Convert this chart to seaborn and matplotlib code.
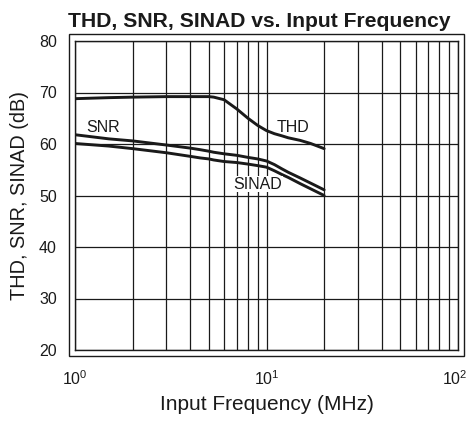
import numpy as np
import pandas as pd
import seaborn as sns
import matplotlib.pyplot as plt
import matplotlib.transforms as mtransforms
from matplotlib.patches import Rectangle

sns.set_theme(style="white")
plt.rcParams['font.family'] = ['Liberation Sans', 'DejaVu Sans']

freq = [1, 1.5, 2, 3, 4, 4.5, 5, 5.3, 6, 7, 8, 9, 10, 11, 12, 13, 15, 17, 20]
thd = [68.8, 69.0, 69.1, 69.2, 69.2, 69.2, 69.2, 69.1, 68.6, 66.8, 65.0, 63.6, 62.6, 62.0, 61.6, 61.2, 60.7, 60.1, 59.1]
snr = [61.8, 61.0, 60.6, 59.8, 59.2, 58.9, 58.6, 58.4, 58.1, 57.8, 57.4, 57.1, 56.7, 56.0, 55.2, 54.5, 53.4, 52.4, 51.1]
sinad = [60.1, 59.6, 59.1, 58.3, 57.6, 57.3, 57.1, 56.9, 56.6, 56.4, 56.1, 55.8, 55.5, 54.8, 54.1, 53.5, 52.3, 51.3, 50.0]

df = pd.DataFrame({'freq': freq * 3,
                   'dB': thd + snr + sinad,
                   'metric': ['THD'] * len(freq) + ['SNR'] * len(freq) + ['SINAD'] * len(freq)})

fig = plt.figure(figsize=(4.69, 4.22), dpi=100)
ax = fig.add_axes([75 / 469, 1 - 350 / 422, 383 / 469, 309 / 422])

sns.lineplot(data=df, x='freq', y='dB', units='metric', estimator=None,
             color='#1a1a1a', linewidth=2.1, ax=ax, legend=False)

ax.set_xscale('log')
ax.set_xlim(1, 100)
ax.set_ylim(20, 80)
ax.set_yticks([20, 30, 40, 50, 60, 70, 80])
ax.grid(True, which='both', axis='x', color='#1a1a1a', linewidth=0.9)
ax.grid(True, which='major', axis='y', color='#1a1a1a', linewidth=0.9)
for s in ax.spines.values():
    s.set_color('#1a1a1a')
    s.set_linewidth(1.0)
ax.tick_params(axis='both', which='both', length=0, labelsize=11.5, colors='#1a1a1a')
ax.tick_params(axis='y', pad=13)
ax.tick_params(axis='x', pad=14)

ax.text(1.4, 63.3, 'SNR', fontsize=11.5, ha='center', va='center', color='#1a1a1a')
ax.text(13.8, 63.3, 'THD', fontsize=11.5, ha='center', va='center', color='#1a1a1a')
ax.text(9.0, 52.2, 'SINAD', fontsize=11.5, ha='center', va='center', color='#1a1a1a',
        bbox=dict(facecolor='white', edgecolor='none', pad=0.5))

ax.set_xlabel('Input Frequency (MHz)', fontsize=15, color='#1a1a1a', labelpad=5)
ax.set_ylabel('THD, SNR, SINAD (dB)', fontsize=14.3, color='#1a1a1a', labelpad=7)
ax.set_title('THD, SNR, SINAD vs. Input Frequency', fontsize=15.2, fontweight='bold',
             color='#1a1a1a', pad=10, x=0.482)

# nudge the last x label so it stays inside the figure
fig.canvas.draw()
last = ax.get_xticklabels()[-1]
for lab in ax.get_xticklabels():
    if '{2}' in lab.get_text():
        lab.set_transform(lab.get_transform() + mtransforms.ScaledTranslation(-3 / 100, 0, fig.dpi_scale_trans))

# outer frame around the plot area
fig.patches.append(Rectangle((69 / 469, 1 - 356 / 422), 395 / 469, 322 / 422,
                             transform=fig.transFigure, fill=False,
                             edgecolor='#1a1a1a', linewidth=1.0))

fig.savefig('out.png', dpi=100)
